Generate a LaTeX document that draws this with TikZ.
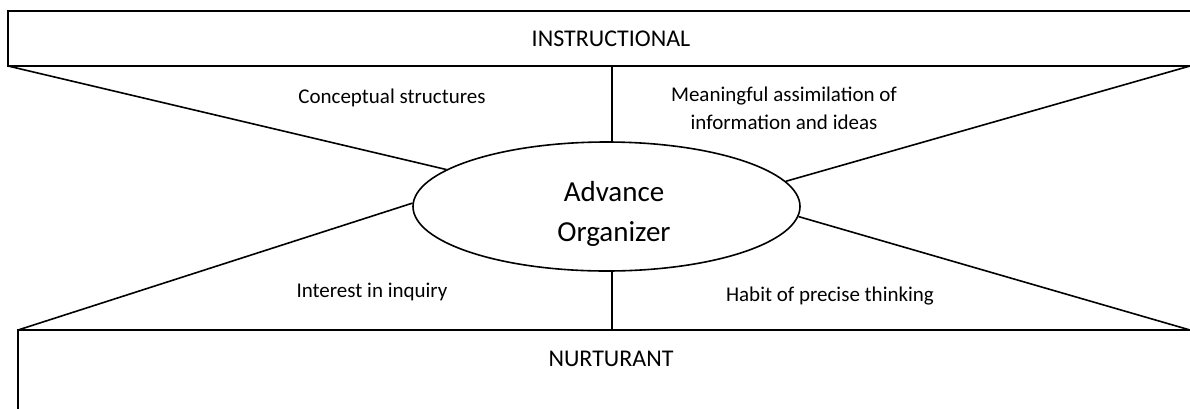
\documentclass[tikz,border=0pt]{standalone}
\usepackage{fontspec}
\setmainfont{Carlito}
\usetikzlibrary{shapes.geometric}
\begin{document}
\begin{tikzpicture}[x=1pt,y=-1pt,
  edge/.style={draw=black,line width=1.6pt},
  lbl/.style={inner sep=0pt,anchor=base,font=\fontsize{21}{28}\selectfont,align=center},
  ttl/.style={inner sep=0pt,anchor=base,font=\fontsize{24}{28}\selectfont},
  org/.style={ellipse,draw=black,line width=1.6pt,minimum width=387pt,minimum height=129pt,inner sep=0pt}]
\useasboundingbox (0,0) rectangle (1190,408);
% corners of the two bands
\coordinate (tlt) at (8,11);
\coordinate (trt) at (1192,11);
\coordinate (tl) at (8,66);
\coordinate (tr) at (1190,66);
\coordinate (trx) at (1192,66);
\coordinate (bl) at (18,330);
\coordinate (br) at (1190,330);
\coordinate (brx) at (1192,330);
\coordinate (blb) at (18,412);
\coordinate (tv) at (612,66);
\coordinate (bv) at (612,330);
% bands
\draw[edge] (trt) -- (tlt) -- (tl) -- (trx);
\draw[edge] (brx) -- (bl) -- (blb);
% ellipse
\node[org] (e) at (606.5,206.5) {};
\node[inner sep=0pt,anchor=base,font=\fontsize{29}{40}\selectfont] (adv) at (614,201.5) {Advance};
\node[inner sep=0pt,anchor=base,font=\fontsize{29}{40}\selectfont] (orgz) at (614,241.5) {Organizer};
% connectors
\draw[edge] (tl) -- (e.167.6);
\draw[edge] (tr) -- (e.8.1);
\draw[edge] (bl) -- (e.179.3);
\draw[edge] (br) -- (e.-3.7);
\draw[edge] (tv) -- (tv |- e.north);
\draw[edge] (bv) -- (bv |- e.south);
% titles
\node[ttl] (ins) at (611,46.5) {INSTRUCTIONAL};
\node[ttl] (nur) at (611,366.5) {NURTURANT};
% labels
\node[lbl] (cs) at (392,103) {Conceptual structures};
\node[lbl] (ma1) at (784,101) {Meaningful assimilation of};
\node[lbl] (ma2) at (784,129) {information and ideas};
\node[lbl] (ii) at (372,297) {Interest in inquiry};
\node[lbl] (hp) at (830,301) {Habit of precise thinking};
\end{tikzpicture}
\end{document}
